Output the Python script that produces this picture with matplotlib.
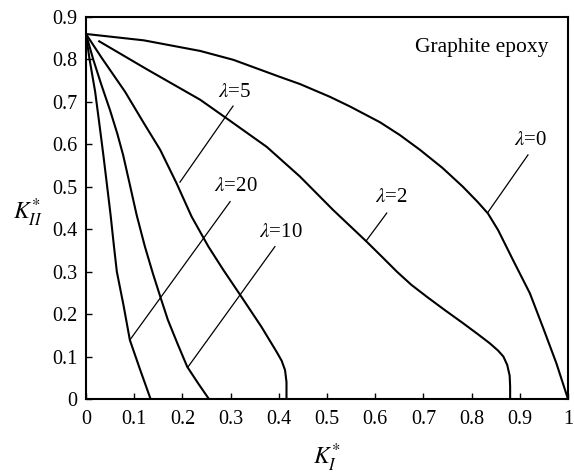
import matplotlib
matplotlib.use("Agg")
import matplotlib.pyplot as plt

plt.rcParams['font.family'] = ['Liberation Serif', 'DejaVu Serif']
plt.rcParams['mathtext.fontset'] = 'stix'

# ---- data ----
lam0_x = [0, 0.12, 0.237, 0.306, 0.402, 0.444, 0.506, 0.548, 0.61, 0.651, 0.693, 0.740, 0.782, 0.812, 0.834, 0.855, 0.887, 0.921, 0.949, 0.976, 1.0]
lam0_y = [0.86, 0.845, 0.82, 0.799, 0.759, 0.742, 0.712, 0.689, 0.652, 0.622, 0.587, 0.544, 0.500, 0.465, 0.437, 0.398, 0.325, 0.249, 0.166, 0.084, 0.0]

lam2_x = [0.0255, 0.126, 0.237, 0.292, 0.375, 0.444, 0.513, 0.582, 0.615, 0.645, 0.675, 0.707, 0.745, 0.783, 0.815, 0.838, 0.855, 0.866, 0.874, 0.879, 0.880, 0.880]
lam2_y = [0.844, 0.777, 0.705, 0.661, 0.594, 0.524, 0.445, 0.371, 0.334, 0.300, 0.269, 0.241, 0.209, 0.178, 0.151, 0.131, 0.114, 0.100, 0.080, 0.055, 0.030, 0.0]

lam5_x = [0, 0.033, 0.081, 0.12, 0.154, 0.188, 0.219, 0.254, 0.285, 0.320, 0.364, 0.395, 0.406, 0.413, 0.416, 0.416]
lam5_y = [0.86, 0.803, 0.724, 0.65, 0.587, 0.508, 0.43, 0.359, 0.304, 0.245, 0.170, 0.112, 0.090, 0.068, 0.04, 0.0]

lam10_x = [0, 0.015, 0.032, 0.050, 0.065, 0.077, 0.090, 0.105, 0.122, 0.139, 0.155, 0.170, 0.190, 0.210, 0.232, 0.255]
lam10_y = [0.86, 0.80, 0.74, 0.68, 0.625, 0.575, 0.51, 0.434, 0.36, 0.295, 0.238, 0.186, 0.13, 0.076, 0.038, 0.0]

lam20_x = [0, 0.007, 0.019, 0.028, 0.036, 0.044, 0.051, 0.058, 0.064, 0.078, 0.091, 0.112, 0.134]
lam20_y = [0.86, 0.803, 0.724, 0.646, 0.575, 0.50, 0.434, 0.36, 0.30, 0.22, 0.139, 0.070, 0.0]

curve_labels = [r'$\lambda$=0', r'$\lambda$=2', r'$\lambda$=5', r'$\lambda$=20', r'$\lambda$=10']
label_pos = [(0.923, 0.610), (0.633, 0.474), (0.309, 0.723), (0.311, 0.500), (0.405, 0.393)]
leader_start = [(0.917, 0.575), (0.624, 0.438), (0.305, 0.690), (0.299, 0.465), (0.392, 0.359)]
leader_end = [(0.834, 0.440), (0.581, 0.372), (0.195, 0.511), (0.091, 0.139), (0.212, 0.076)]

x_ticks = [0, 0.1, 0.2, 0.3, 0.4, 0.5, 0.6, 0.7, 0.8, 0.9, 1.0]
x_ticklabels = ['0', '0.1', '0.2', '0.3', '0.4', '0.5', '0.6', '0.7', '0.8', '0.9', '1']
y_ticks = [0, 0.1, 0.2, 0.3, 0.4, 0.5, 0.6, 0.7, 0.8, 0.9]
y_ticklabels = ['0', '0.1', '0.2', '0.3', '0.4', '0.5', '0.6', '0.7', '0.8', '0.9']

fig = plt.figure(figsize=(5.74, 4.76), dpi=100)
ax = fig.add_axes([0.1498, 0.1618, 0.8397, 0.8025])

for xs, ys in [(lam0_x, lam0_y), (lam2_x, lam2_y), (lam5_x, lam5_y), (lam10_x, lam10_y), (lam20_x, lam20_y)]:
    ax.plot(xs, ys, color='black', lw=1.5, solid_joinstyle='round', solid_capstyle='butt')

for lab, (lx, ly), (sx, sy), (ex, ey) in zip(curve_labels, label_pos, leader_start, leader_end):
    ax.plot([sx, ex], [sy, ey], color='black', lw=0.9)
    ax.text(lx, ly, lab, ha='center', va='center', fontsize=15)

ax.text(0.822, 0.827, 'Graphite epoxy', ha='center', va='center', fontsize=15.5)

ax.set_xlim(0, 1)
ax.set_ylim(0, 0.9)
ax.set_xticks(x_ticks)
ax.set_xticklabels(x_ticklabels)
ax.set_yticks(y_ticks)
ax.set_yticklabels(y_ticklabels)
ax.tick_params(direction='in', length=4, width=1, labelsize=14.5, top=False, right=False)
ax.tick_params(axis='x', pad=8)
ax.tick_params(axis='y', pad=6)
for s in ax.spines.values():
    s.set_linewidth(1.5)

fig.text(0.049, 0.5525, r'$K_{II}^{*}$', ha='center', va='center', fontsize=17)
fig.text(0.570, 0.038, r'$K_{I}^{*}$', ha='center', va='center', fontsize=17)

fig.savefig('out.png', dpi=100)
